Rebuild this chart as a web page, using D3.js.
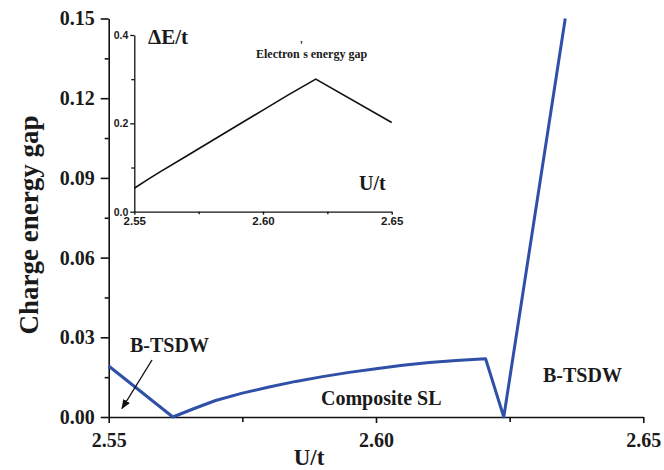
<!DOCTYPE html>
<html>
<head>
<script src="https://d3js.org/d3.v7.min.js"></script>
<style>
  body { margin: 0; background: #fff; }
</style>
</head>
<body>
<div id="chartContainer"></div>
<script>
// main panel: charge energy gap vs U/t
var mainU   = [2.55, 2.562, 2.566, 2.570, 2.575, 2.580, 2.585, 2.590, 2.595, 2.600, 2.605, 2.610, 2.615, 2.6205, 2.6239, 2.6354];
var mainGap = [0.0192, 0.0, 0.0032, 0.0062, 0.0090, 0.0113, 0.0134, 0.0152, 0.0168, 0.0182, 0.0195, 0.0205, 0.0213, 0.0219, 0.0, 0.15];
var mainXTicks = [2.55, 2.60, 2.65];
var mainXMinor = [2.575, 2.625];
var mainYTicks = [0.00, 0.03, 0.06, 0.09, 0.12, 0.15];
var mainYMinor = [0.015, 0.045, 0.075, 0.105, 0.135];

// inset: electron's energy gap
var insetU   = [2.55, 2.555, 2.56, 2.57, 2.58, 2.59, 2.60, 2.61, 2.6205, 2.65];
var insetGap = [0.053, 0.072, 0.090, 0.125, 0.160, 0.195, 0.230, 0.265, 0.300, 0.202];
var insetXTicks = [2.55, 2.60, 2.65];
var insetXMinor = [2.575, 2.625];
var insetYTicks = [0.0, 0.2, 0.4];
var insetYMinor = [0.1, 0.3];

var SERIF = "'Liberation Serif', 'Times New Roman', Times, serif";
var SANS = "'Liberation Sans', Arial, Helvetica, sans-serif";

var W = 664, H = 470;
var svg = d3.select("#chartContainer").append("svg")
  .attr("width", W).attr("height", H);

var x = d3.scaleLinear().domain([2.55, 2.65]).range([108.7, 643.3]);
var y = d3.scaleLinear().domain([0, 0.15]).range([417, 18.5]);

function styleAxis(g, width) {
  g.select(".domain").attr("stroke", "#111").attr("stroke-width", width);
  g.selectAll(".tick line").attr("stroke", "#111").attr("stroke-width", width);
}
function label(sel, fam, size) {
  sel.style("font-family", fam).style("font-weight", "bold")
    .style("font-size", size).attr("fill", "#1a1a1a");
}

// main axes
var gx = svg.append("g").attr("transform", "translate(0,417)")
  .call(d3.axisBottom(x).tickValues(mainXTicks).tickSize(6).tickSizeOuter(0).tickPadding(10).tickFormat(d3.format(".2f")));
label(gx.selectAll("text"), SERIF, "20px");
styleAxis(gx, 1.6);
var gxm = svg.append("g").attr("transform", "translate(0,417)")
  .call(d3.axisBottom(x).tickValues(mainXMinor).tickSize(5).tickFormat(""));
gxm.select(".domain").remove();
styleAxis(gxm, 1.6);

var gy = svg.append("g").attr("transform", "translate(108.7,0)")
  .call(d3.axisLeft(y).tickValues(mainYTicks).tickSize(8).tickSizeOuter(0).tickPadding(6).tickFormat(d3.format(".2f")));
label(gy.selectAll("text"), SERIF, "20px");
styleAxis(gy, 1.6);
var gym = svg.append("g").attr("transform", "translate(108.7,0)")
  .call(d3.axisLeft(y).tickValues(mainYMinor).tickSize(4).tickFormat(""));
gym.select(".domain").remove();
styleAxis(gym, 1.6);

// main curve
var mainData = mainU.map(function (u, i) { return [u, mainGap[i]]; });
svg.append("path")
  .datum(mainData)
  .attr("fill", "none")
  .attr("stroke", "#3050a8")
  .attr("stroke-width", 3)
  .attr("stroke-linejoin", "round")
  .attr("d", d3.line().x(function (d) { return x(d[0]); }).y(function (d) { return y(d[1]); }));

// main labels
label(svg.append("text").attr("x", 309).attr("y", 465).attr("text-anchor", "middle").text("U/t"), SERIF, "23px");
label(svg.append("text").attr("transform", "translate(38,225) rotate(-90)").attr("text-anchor", "middle")
  .text("Charge energy gap"), SERIF, "27px");
label(svg.append("text").attr("x", 130).attr("y", 352).text("B-TSDW"), SERIF, "20px");
label(svg.append("text").attr("x", 543).attr("y", 382).text("B-TSDW"), SERIF, "20px");
label(svg.append("text").attr("x", 321).attr("y", 405).text("Composite SL"), SERIF, "20px");

// arrow
svg.append("defs").append("marker")
  .attr("id", "arr").attr("viewBox", "0 0 10 10").attr("refX", 9).attr("refY", 5)
  .attr("markerWidth", 7).attr("markerHeight", 7).attr("orient", "auto")
  .append("path").attr("d", "M0,1 L10,5 L0,9 Z").attr("fill", "#111");
svg.append("line").attr("x1", 152).attr("y1", 360).attr("x2", 122).attr("y2", 408.5)
  .attr("stroke", "#111").attr("stroke-width", 1.4).attr("marker-end", "url(#arr)");

// inset
var ix = d3.scaleLinear().domain([2.55, 2.65]).range([134.3, 391.7]);
var iy = d3.scaleLinear().domain([0, 0.4]).range([211.7, 35]);
var inset = svg.append("g");

var igx = inset.append("g").attr("transform", "translate(0,211.7)")
  .call(d3.axisBottom(ix).tickValues(insetXTicks).tickSize(3).tickSizeOuter(0).tickPadding(2).tickFormat(d3.format(".2f")));
label(igx.selectAll("text"), SANS, "11.5px");
styleAxis(igx, 1.3);
var igxm = inset.append("g").attr("transform", "translate(0,211.7)")
  .call(d3.axisBottom(ix).tickValues(insetXMinor).tickSize(2.5).tickFormat(""));
igxm.select(".domain").remove();
styleAxis(igxm, 1.3);

var igy = inset.append("g").attr("transform", "translate(134.3,0)")
  .call(d3.axisLeft(iy).tickValues(insetYTicks).tickSize(4).tickSizeOuter(0).tickPadding(2).tickFormat(d3.format(".1f")));
label(igy.selectAll("text"), SANS, "10.5px");
styleAxis(igy, 1.3);
var igym = inset.append("g").attr("transform", "translate(134.3,0)")
  .call(d3.axisLeft(iy).tickValues(insetYMinor).tickSize(3).tickFormat(""));
igym.select(".domain").remove();
styleAxis(igym, 1.3);

var insetData = insetU.map(function (u, i) { return [u, insetGap[i]]; });
inset.append("path")
  .datum(insetData)
  .attr("fill", "none")
  .attr("stroke", "#111")
  .attr("stroke-width", 1.6)
  .attr("d", d3.line().x(function (d) { return ix(d[0]); }).y(function (d) { return iy(d[1]); }));

label(inset.append("text").attr("x", 148).attr("y", 43.5).text("\u0394E/t"), SERIF, "21px");
label(inset.append("text").attr("x", 359).attr("y", 190).text("U/t"), SERIF, "20px");
var et = inset.append("text").attr("x", 256).attr("y", 58);
label(et, SERIF, "12px");
et.append("tspan").text("Electron");
et.append("tspan").attr("dy", -9).text("'");
et.append("tspan").attr("dy", 9).text("s energy gap");
</script>
</body>
</html>
